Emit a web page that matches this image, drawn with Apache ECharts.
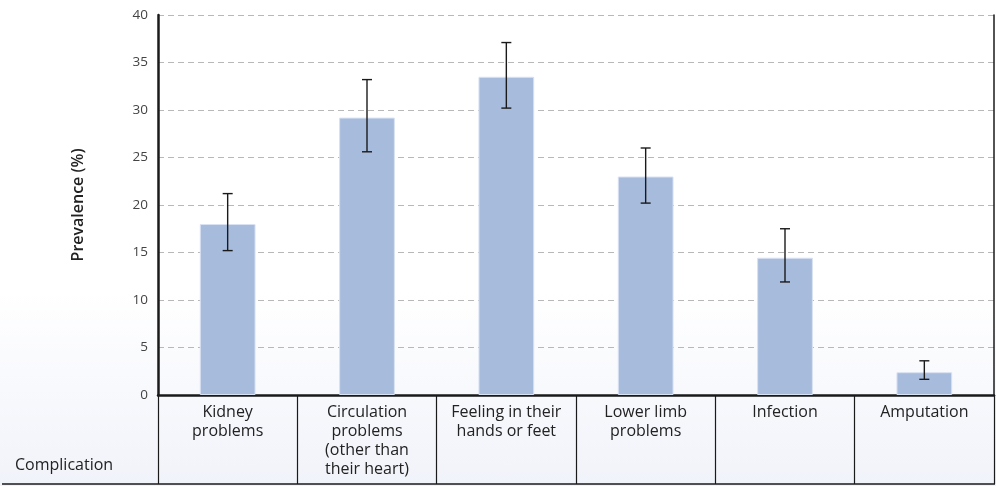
<!DOCTYPE html>
<html>
<head>
<meta charset="utf-8">
<script src="https://cdn.jsdelivr.net/npm/echarts@6/dist/echarts.min.js"></script>
<style>
html,body{margin:0;padding:0;}
#c{width:996px;height:486px;background:linear-gradient(to bottom,#ffffff 0px,#ffffff 290px,#f1f3fa 486px);}
</style>
</head>
<body>
<div id="c"></div>
<script>
var categories = ['Kidney\nproblems', 'Circulation\nproblems\n(other than\ntheir heart)', 'Feeling in their\nhands or feet', 'Lower limb\nproblems', 'Infection', 'Amputation'];
var prevalence = [18.0, 29.2, 33.5, 23.0, 14.45, 2.4];
var lowerCI = [15.2, 25.6, 30.2, 20.2, 11.9, 1.65];
var upperCI = [21.2, 33.2, 37.1, 26.0, 17.5, 3.6];
var yTicks = {min: 0, max: 40, interval: 5};

var font = '"Open Sans", Lato, sans-serif';
var chart = echarts.init(document.getElementById('c'));
var errData = categories.map(function (c, i) { return [i, lowerCI[i], upperCI[i]]; });

chart.setOption({
  backgroundColor: 'transparent',
  animation: false,
  grid: {left: 158, right: 2, top: 15, bottom: 91},
  xAxis: {
    type: 'category',
    data: categories,
    axisLine: {show: true, lineStyle: {color: '#1a1a1a', width: 2.5}},
    axisTick: {show: true, length: 89, lineStyle: {color: '#1a1a1a', width: 1.2}},
    axisLabel: {
      interval: 0, margin: 8, color: '#222', fontFamily: font, fontSize: 16, fontWeight: 500,
      lineHeight: 19, verticalAlign: 'top', align: 'center'
    },
    splitLine: {show: false}
  },
  yAxis: [{
    type: 'value',
    min: yTicks.min, max: yTicks.max, interval: yTicks.interval,
    name: 'Prevalence (%)',
    nameLocation: 'middle',
    nameGap: 72,
    nameTextStyle: {fontFamily: font, fontSize: 16, fontWeight: 600, color: '#222'},
    axisLine: {show: true, lineStyle: {color: '#1a1a1a', width: 2.5}},
    axisTick: {show: false},
    axisLabel: {color: '#444', fontFamily: font, fontSize: 13.5, margin: 10},
    splitLine: {show: true, lineStyle: {color: '#b8b8b8', type: [6, 4], width: 1}}
  }, {
    type: 'value',
    position: 'right',
    min: yTicks.min, max: yTicks.max, interval: yTicks.interval,
    axisLine: {show: true, lineStyle: {color: '#1a1a1a', width: 1.5}},
    axisTick: {show: false},
    axisLabel: {show: false},
    splitLine: {show: false}
  }],
  series: [{
    type: 'bar',
    data: prevalence,
    barWidth: '40%',
    itemStyle: {color: '#a7bbdd', borderColor: '#d9e2f2', borderWidth: 1}
  }, {
    type: 'custom',
    data: errData,
    z: 10,
    renderItem: function (params, api) {
      var x = api.value(0);
      var lo = api.coord([x, api.value(1)]);
      var hi = api.coord([x, api.value(2)]);
      var hw = 5;
      var st = {stroke: '#1a1a1a', lineWidth: 1.4};
      return {
        type: 'group',
        children: [
          {type: 'line', shape: {x1: lo[0], y1: lo[1], x2: hi[0], y2: hi[1]}, style: st},
          {type: 'line', shape: {x1: hi[0] - hw, y1: hi[1], x2: hi[0] + hw, y2: hi[1]}, style: st},
          {type: 'line', shape: {x1: lo[0] - hw, y1: lo[1], x2: lo[0] + hw, y2: lo[1]}, style: st}
        ]
      };
    }
  }],
  graphic: [
    {type: 'line', shape: {x1: 2, y1: 484, x2: 995, y2: 484}, style: {stroke: '#1a1a1a', lineWidth: 1.5}},
    {type: 'text', left: 15, top: 457, style: {text: 'Complication', fontFamily: font, fontSize: 16, fontWeight: 500, fill: '#222'}}
  ]
});
</script>
</body>
</html>
